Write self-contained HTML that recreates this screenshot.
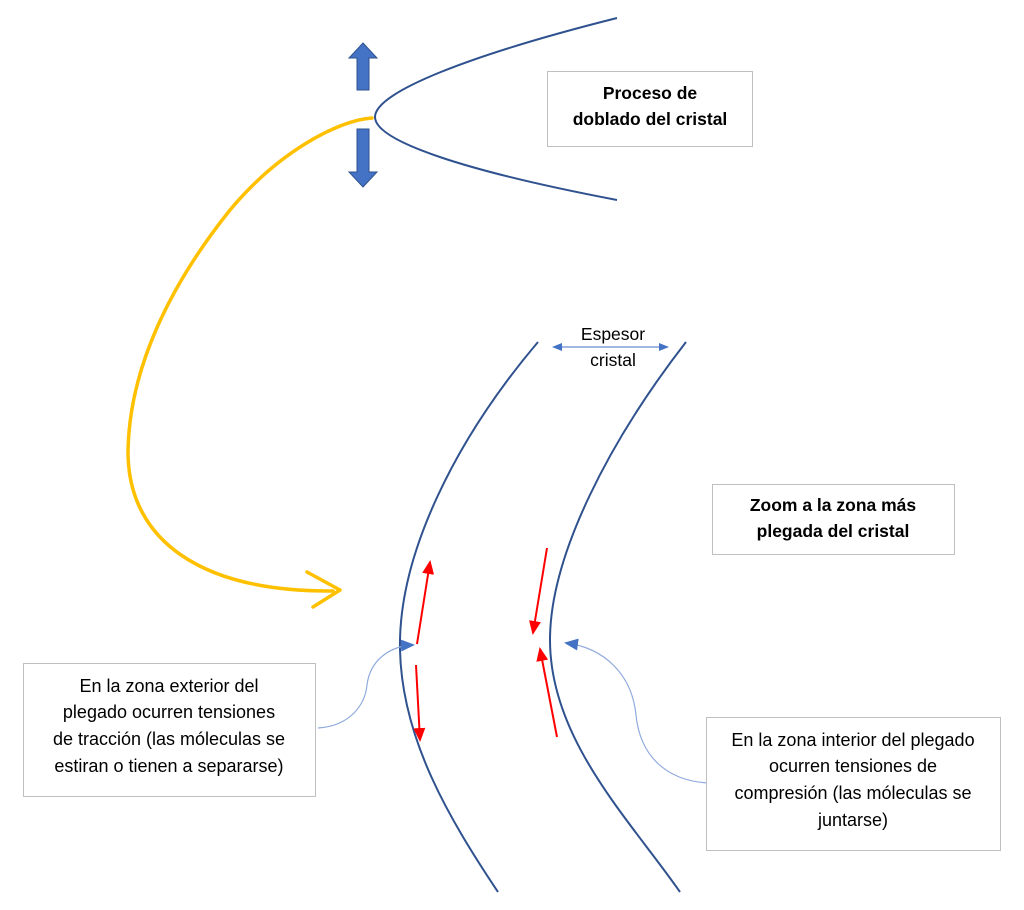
<!DOCTYPE html>
<html><head><meta charset="utf-8"><style>
html,body{margin:0;padding:0;background:#fff;width:1024px;height:910px;overflow:hidden}
svg{display:block}
text{font-family:"Liberation Sans",Calibri,sans-serif;fill:#000}
</style></head><body>
<svg width="1024" height="910" viewBox="0 0 1024 910" xmlns="http://www.w3.org/2000/svg">
<defs>
<marker id="bh2" markerWidth="14" markerHeight="12" refX="12" refY="6" orient="auto" markerUnits="userSpaceOnUse"><path d="M0,0 L14,6 L0,12 z" fill="#4472c4"/></marker>
<marker id="rh" markerWidth="14" markerHeight="12" refX="12" refY="6" orient="auto" markerUnits="userSpaceOnUse"><path d="M0,0 L14,6 L0,12 z" fill="#ff0000"/></marker>
</defs>
<path d="M617,18 C470,55 375,92 375,117 C375,142 470,172 617,200" fill="none" stroke="#2f528f" stroke-width="2"/>
<path d="M363,43 L377,58 L369,58 L369,90 L357,90 L357,58 L349,58 Z" fill="#4472c4" stroke="#2f528f" stroke-width="1"/>
<path d="M363,187 L377,172 L369,172 L369,129 L357,129 L357,172 L349,172 Z" fill="#4472c4" stroke="#2f528f" stroke-width="1"/>
<path d="M372,118 C340,120 280,150 230,210 C170,285 128,370 128,455 C130,540 200,592 333,591" fill="none" stroke="#ffc000" stroke-width="3.5" stroke-linecap="round"/>
<path d="M307,572 L340,590 L313,607" fill="none" stroke="#ffc000" stroke-width="3.5" stroke-linecap="round" stroke-linejoin="round"/>
<path d="M538,342 C455,440 398,555 400,650 C402,740 450,820 498,892" fill="none" stroke="#2f528f" stroke-width="2"/>
<path d="M686,342 C610,440 550,555 550,640 C550,740 630,820 680,892" fill="none" stroke="#2f528f" stroke-width="2"/>
<line x1="561" y1="347" x2="660" y2="347" stroke="#4472c4" stroke-width="1"/>
<path d="M552,347 L562,343 L562,351 Z" fill="#4472c4"/>
<path d="M669,347 L659,343 L659,351 Z" fill="#4472c4"/>
<text x="613" y="340" font-size="17.5" text-anchor="middle">Espesor</text>
<text x="613" y="366" font-size="17.5" text-anchor="middle">cristal</text>
<line x1="417" y1="644" x2="430" y2="562" stroke="#f00" stroke-width="2" marker-end="url(#rh)"/>
<line x1="416" y1="665" x2="420" y2="740" stroke="#f00" stroke-width="2" marker-end="url(#rh)"/>
<line x1="547" y1="548" x2="533" y2="633" stroke="#f00" stroke-width="2" marker-end="url(#rh)"/>
<line x1="557" y1="737" x2="540" y2="649" stroke="#f00" stroke-width="2" marker-end="url(#rh)"/>
<path d="M318,728 C350,726 365,705 367,685 C370,660 390,646 413,645" fill="none" stroke="#8faadc" stroke-width="1.2" marker-end="url(#bh2)"/>
<path d="M707,783 C665,780 640,755 636,715 C632,675 605,648 566,643" fill="none" stroke="#8faadc" stroke-width="1.2" marker-end="url(#bh2)"/>
<rect x="547.5" y="71.5" width="205" height="75" fill="#fff" stroke="#bfbfbf"/>
<text x="650" y="99" font-size="17.5" font-weight="bold" text-anchor="middle">Proceso de</text>
<text x="650" y="125" font-size="17.5" font-weight="bold" text-anchor="middle">doblado del cristal</text>
<rect x="712.5" y="484.5" width="242" height="70" fill="#fff" stroke="#bfbfbf"/>
<text x="833" y="511" font-size="17.5" font-weight="bold" text-anchor="middle">Zoom a la zona más</text>
<text x="833" y="537" font-size="17.5" font-weight="bold" text-anchor="middle">plegada del cristal</text>
<rect x="23.5" y="663.5" width="292" height="133" fill="#fff" stroke="#bfbfbf"/>
<g font-size="18" text-anchor="middle">
<text x="169" y="692">En la zona exterior del</text>
<text x="169" y="718">plegado ocurren tensiones</text>
<text x="169" y="745">de tracción (las móleculas se</text>
<text x="169" y="772">estiran o tienen a separarse)</text>
</g>
<rect x="706.5" y="717.5" width="294" height="133" fill="#fff" stroke="#bfbfbf"/>
<g font-size="18" text-anchor="middle">
<text x="853" y="746">En la zona interior del plegado</text>
<text x="853" y="772">ocurren tensiones de</text>
<text x="853" y="799">compresión (las móleculas se</text>
<text x="853" y="826">juntarse)</text>
</g>
</svg>
</body></html>
